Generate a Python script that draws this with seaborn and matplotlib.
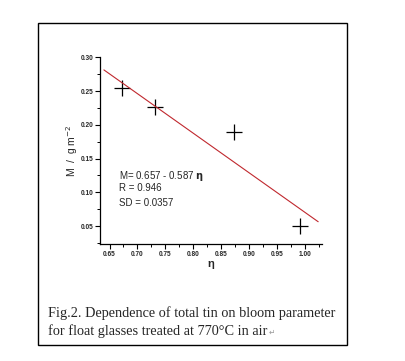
import matplotlib
matplotlib.use("Agg")
import matplotlib.pyplot as plt
from matplotlib.patches import Rectangle
from matplotlib.ticker import MultipleLocator
import seaborn as sns
import pandas as pd

# data
eta = [0.672, 0.732, 0.873, 0.991]
M = [0.254, 0.227, 0.189, 0.050]
fit_intercept = 0.657
fit_slope = -0.587
fit_eta = [0.640, 1.023]
x_ticks = [0.65, 0.70, 0.75, 0.80, 0.85, 0.90, 0.95, 1.00]
y_ticks = [0.05, 0.10, 0.15, 0.20, 0.25, 0.30]

sns.set_style("ticks")
plt.rcParams['font.family'] = ['Liberation Sans', 'DejaVu Sans']

fig = plt.figure(figsize=(4.05, 3.61), dpi=100)
ax = fig.add_axes([0.2469, 0.325, 0.547, 0.5163])

df = pd.DataFrame({"eta": eta, "M": M})
fit_df = pd.DataFrame({"eta": fit_eta,
                       "M": [fit_intercept + fit_slope * e for e in fit_eta]})

sns.lineplot(data=fit_df, x="eta", y="M", ax=ax, color="#c0282e", lw=0.8)
sns.scatterplot(data=df, x="eta", y="M", ax=ax, marker="+", s=130,
                color="black", linewidth=0.9)

ax.set_xlim(0.633, 1.029)
ax.set_ylim(0.024, 0.30)
ax.set_xticks(x_ticks)
ax.set_yticks(y_ticks)
ax.xaxis.set_minor_locator(MultipleLocator(0.025))
ax.yaxis.set_minor_locator(MultipleLocator(0.025))
ax.set_xticklabels([f"{v:.2f}" for v in x_ticks], fontsize=4.7, fontweight="bold")
ax.set_yticklabels([f"{v:.2f}" for v in y_ticks], fontsize=4.7, fontweight="bold")
ax.tick_params(which="major", length=3.5, width=0.8, pad=1.5, color="black")
ax.tick_params(which="minor", length=2, width=0.7, color="black")
sns.despine(ax=ax)
for s in ["left", "bottom"]:
    ax.spines[s].set_linewidth(0.9)
    ax.spines[s].set_color("black")

ax.set_xlabel("η", fontsize=8, fontweight="bold", labelpad=1)
ax.set_ylabel("M  /  g m$^{-2}$", fontsize=7.5, labelpad=0)

tx = 0.086
ax.text(tx, 0.363, "M= 0.657 - 0.587 $\\mathbf{η}$", transform=ax.transAxes,
        fontsize=7, va="center", ha="left")
ax.text(tx, 0.298, "R = 0.946", transform=ax.transAxes,
        fontsize=7, va="center", ha="left")
ax.text(tx, 0.218, "SD = 0.0357", transform=ax.transAxes,
        fontsize=7, va="center", ha="left")

fig.patches.append(Rectangle((38 / 405, 1 - 345 / 361), (346.7 - 38) / 405,
                             (345 - 22.7) / 361, transform=fig.transFigure,
                             fill=False, edgecolor="black", lw=1.0))

serif = ["Liberation Serif", "DejaVu Sans"]
fig.text(48 / 405, 1 - 313 / 361, "Fig.2. Dependence of total tin on bloom parameter",
         family=serif, fontsize=10.3, va="center", ha="left")
t2 = fig.text(48 / 405, 1 - 331 / 361, "for float glasses treated at 770°C in air",
              family=serif, fontsize=10.3, va="center", ha="left")
fig.canvas.draw()
bb = t2.get_window_extent(renderer=fig.canvas.get_renderer())
fig.text((bb.x1 + 1) / fig.bbox.width, 1 - 332 / 361, "↵", family=["DejaVu Sans"],
         fontsize=5.5, color="#999999", va="center", ha="left")

fig.savefig("out.png", dpi=100)
